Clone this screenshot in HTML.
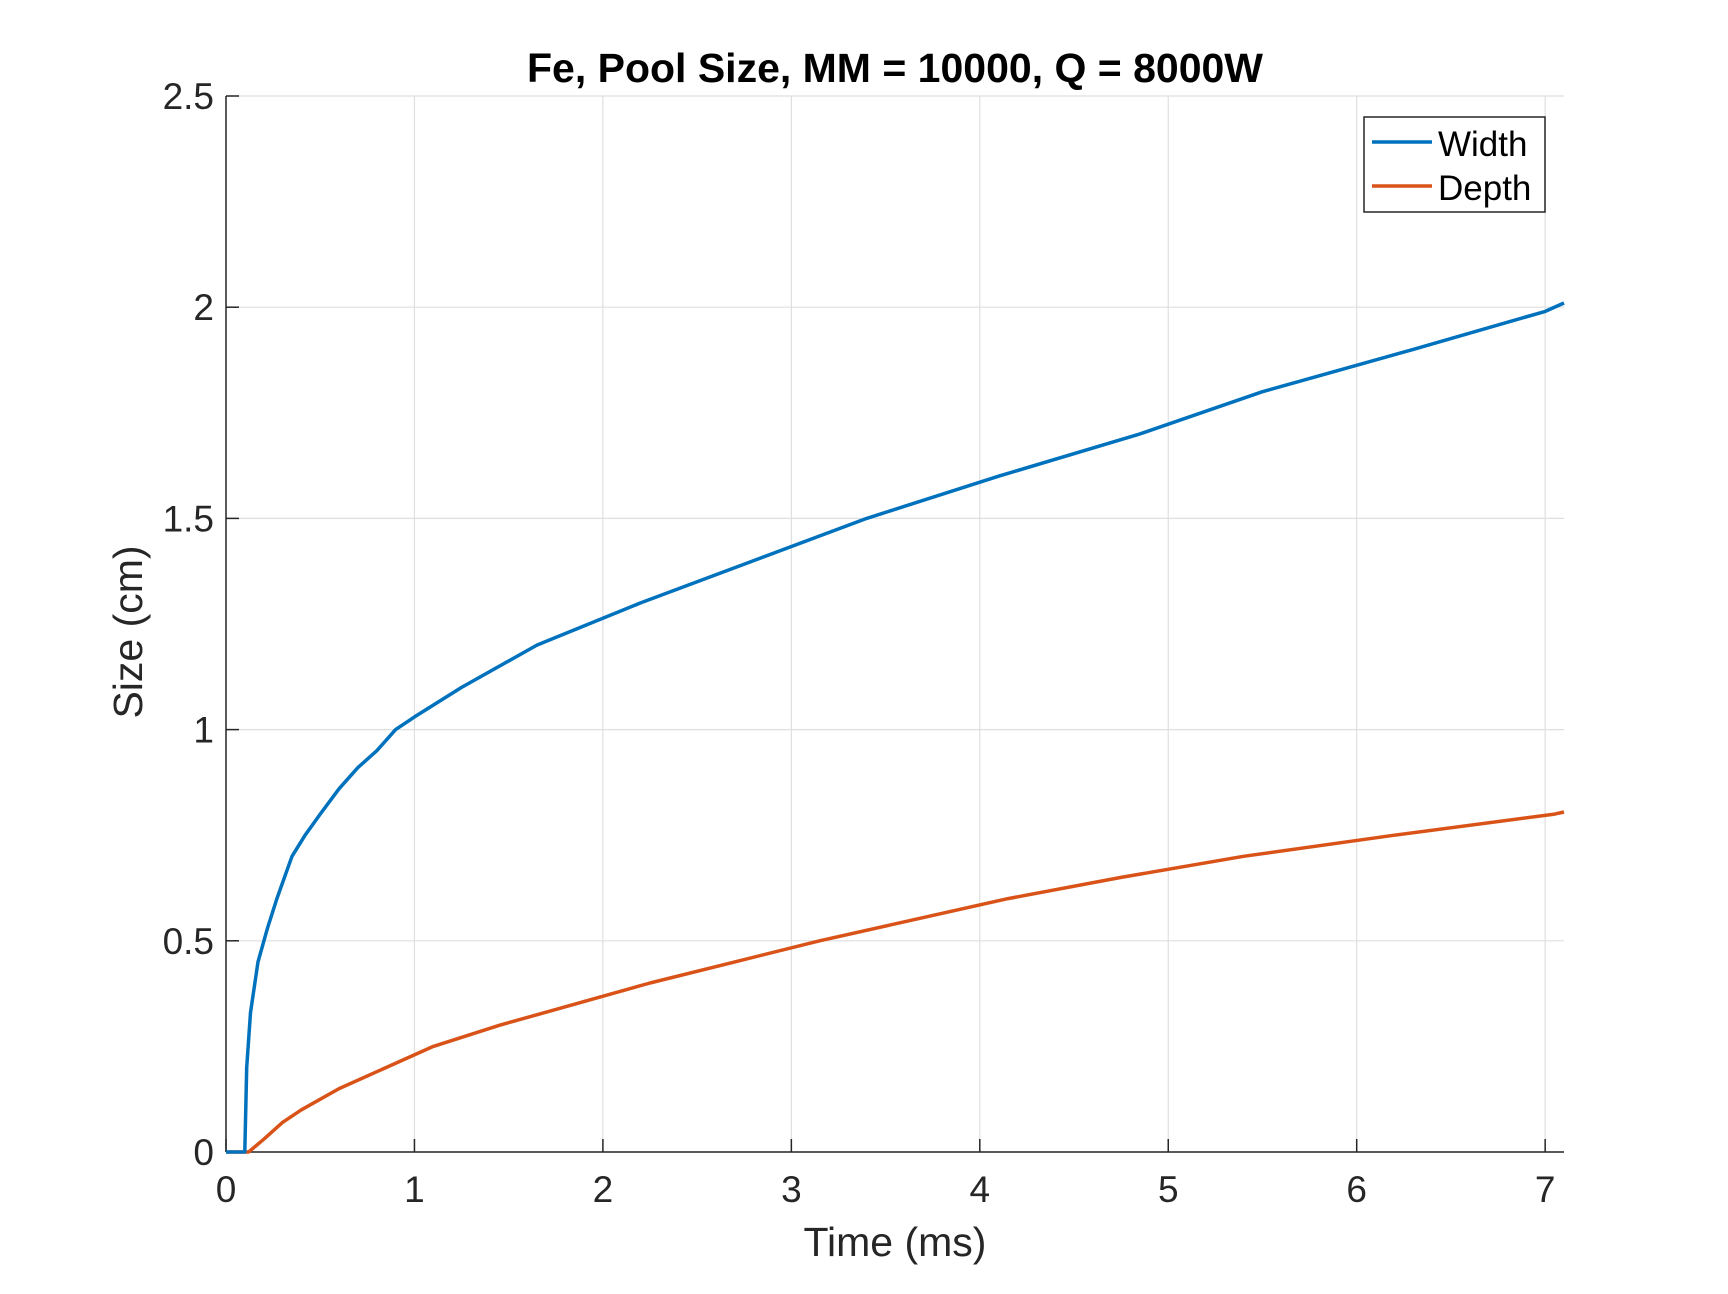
<!DOCTYPE html>
<html><head><meta charset="utf-8"><style>
html,body{margin:0;padding:0;background:#fff;}
svg{display:block;font-family:"Liberation Sans",Arial,sans-serif;}
</style></head><body>
<svg id="chart" width="1728" height="1294" viewBox="0 0 1728 1294" xmlns="http://www.w3.org/2000/svg">
<rect width="1728" height="1294" fill="#fff"/>
<g id="grid"></g>
<g id="axes"></g>
<g id="series"></g>
<text x="895" y="82" text-anchor="middle" font-size="41" font-weight="bold" fill="#000">Fe, Pool Size, MM = 10000, Q = 8000W</text>
<text x="895" y="1256" text-anchor="middle" font-size="41" fill="#262626">Time (ms)</text>
<text transform="translate(142,632) rotate(-90)" text-anchor="middle" font-size="41" fill="#262626">Size (cm)</text>
<g>
<rect x="1364" y="117" width="181" height="95" fill="#fff" stroke="#262626" stroke-width="1.5"/>
<line x1="1372" y1="142" x2="1432" y2="142" stroke="#0072BD" stroke-width="3.5"/>
<text x="1438" y="156" font-size="35" fill="#000">Width</text>
<line x1="1372" y1="186" x2="1432" y2="186" stroke="#D95319" stroke-width="3.5"/>
<text x="1438" y="200" font-size="35" fill="#000">Depth</text>
</g>
</svg>
<script>
const xTicks = [0,1,2,3,4,5,6,7];
const yTicks = [0,0.5,1,1.5,2,2.5];
const yTickLabels = ["0","0.5","1","1.5","2","2.5"];
const widthTime = [0,0.1,0.11,0.13,0.17,0.22,0.27,0.35,0.42,0.5,0.6,0.7,0.8,0.9,1.0,1.25,1.65,2.2,2.8,3.4,4.1,4.85,5.5,6.3,7.0,7.1];
const widthVals = [0,0,0.2,0.33,0.45,0.53,0.6,0.7,0.75,0.8,0.86,0.91,0.95,1.0,1.03,1.1,1.2,1.3,1.4,1.5,1.6,1.7,1.8,1.9,1.99,2.01];
const depthTime = [0,0.12,0.2,0.3,0.4,0.6,0.85,1.1,1.45,1.85,2.25,2.7,3.15,3.65,4.15,4.75,5.4,6.2,7.05,7.1];
const depthVals = [0,0,0.03,0.07,0.1,0.15,0.2,0.25,0.3,0.35,0.4,0.45,0.5,0.55,0.6,0.65,0.7,0.75,0.8,0.805];
const X0=226, X1=1564, Y0=1152, Y1=96, XMAX=7.1, YMAX=2.5;
const sx = v => X0 + v/XMAX*(X1-X0);
const sy = v => Y0 - v/YMAX*(Y0-Y1);
const NS="http://www.w3.org/2000/svg";
function mk(tag, attrs, parent){const e=document.createElementNS(NS,tag);for(const k in attrs)e.setAttribute(k,attrs[k]);parent.appendChild(e);return e;}
const grid=document.getElementById('grid'), axes=document.getElementById('axes'), series=document.getElementById('series');
xTicks.forEach(t=>{
  const g=mk('line',{x1:sx(t),x2:sx(t),y1:Y0,y2:Y1,stroke:'#dfdfdf','stroke-width':1.2},grid);
  
  
  const tk=mk('line',{x1:sx(t),x2:sx(t),y1:Y0,y2:Y0-13,stroke:'#262626','stroke-width':1.5},axes);
  
  
  const lb=mk('text',{x:sx(t),y:Y0+50,'text-anchor':'middle','font-size':37,fill:'#262626'},axes);
  lb.textContent=String(t);
  
  
});
yTicks.forEach((t,i)=>{
  const g=mk('line',{x1:X0,x2:X1,y1:sy(t),y2:sy(t),stroke:'#dfdfdf','stroke-width':1.2},grid);
  
  
  const tk=mk('line',{x1:X0,x2:X0+13,y1:sy(t),y2:sy(t),stroke:'#262626','stroke-width':1.5},axes);
  
  
  const lb=mk('text',{x:X0-12,y:sy(t)+13,'text-anchor':'end','font-size':37,fill:'#262626'},axes);
  lb.textContent=yTickLabels[i];
  
  
});
const xa=mk('line',{x1:X0,x2:X1,y1:Y0,y2:Y0,stroke:'#262626','stroke-width':1.5},axes);


const ya=mk('line',{x1:X0,x2:X0,y1:Y0,y2:Y1,stroke:'#262626','stroke-width':1.5},axes);


function pts(ts,vs){return ts.map((t,i)=>sx(t).toFixed(1)+','+sy(vs[i]).toFixed(1)).join(' ');}
const dl=mk('polyline',{points:pts(depthTime,depthVals),fill:'none',stroke:'#D95319','stroke-width':3.5,'stroke-linejoin':'round'},series);


const wl=mk('polyline',{points:pts(widthTime,widthVals),fill:'none',stroke:'#0072BD','stroke-width':3.5,'stroke-linejoin':'round'},series);


</script>
</body></html>
